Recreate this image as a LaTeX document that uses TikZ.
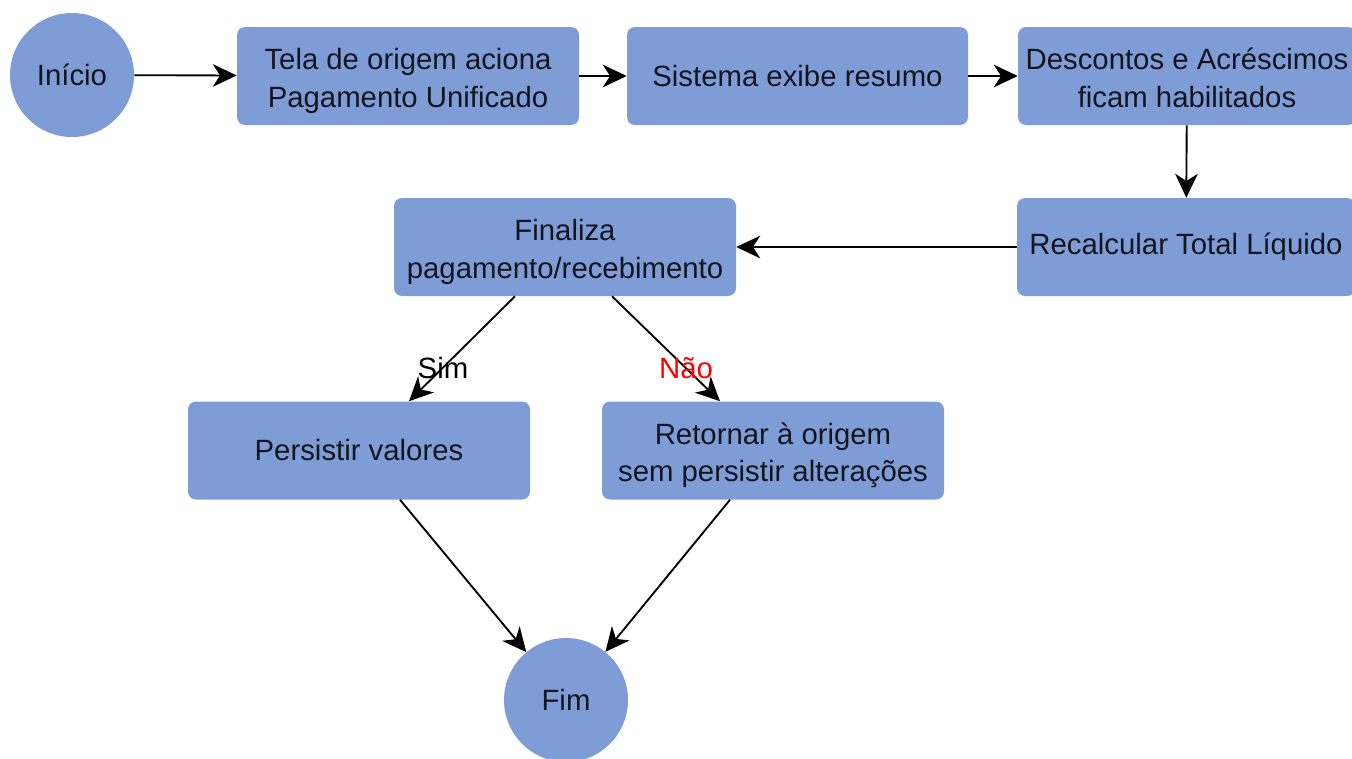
\documentclass[tikz,border=0pt]{standalone}
\usepackage{fontspec}
\setmainfont{Liberation Sans}
\usetikzlibrary{arrows.meta}
\definecolor{boxblue}{RGB}{126,157,214}
\definecolor{txt}{RGB}{20,20,30}
\newcommand\twolines[2]{\raisebox{-3.75pt}[\height][\depth]{\begin{tabular}{@{}c@{}}#1\\#2\end{tabular}}}
\tikzset{
  stepbox/.style={draw=none, fill=boxblue, rounded corners=8*0.75pt,
    minimum width=342*0.75pt, minimum height=98*0.75pt, inner sep=0pt,
    align=center, text=txt, font=\fontsize{22}{28}\selectfont},
  endcirc/.style={circle, draw=none, fill=boxblue, minimum size=124*0.75pt,
    inner sep=0pt, text=txt, font=\fontsize{22}{28}\selectfont},
  conn/.style={draw=black, line width=1.4pt, -{Stealth[length=18pt,width=17pt,inset=5.5pt]}},
  lbl/.style={font=\fontsize{22}{28}\selectfont, inner sep=1pt}
}
\begin{document}
\begin{tikzpicture}[x=0.75pt,y=-0.75pt]
\useasboundingbox (0,0) rectangle (1352,758);
\begin{scope}
\clip (0,0) rectangle (1352,758);
\node[endcirc] (ini) at (72,75) {Início};
\node[stepbox] (tela) at (408,76) {\twolines{Tela de origem aciona}{Pagamento Unificado}};
\node[stepbox, minimum width=341*0.75pt] (sist) at (797.5,76) {Sistema exibe resumo};
\node[stepbox, minimum width=338*0.75pt] (desc) at (1187,76) {\twolines{Descontos e Acréscimos}{ficam habilitados}};
\node[stepbox, minimum width=338*0.75pt] (recalc) at (1186,247) {Recalcular Total Líquido};
\node[stepbox] (fin) at (565,247) {\twolines{Finaliza}{pagamento/recebimento}};
\node[stepbox] (pers) at (359,450.5) {Persistir valores};
\node[stepbox] (ret) at (773,450.5) {\twolines{Retornar à origem}{sem persistir alterações}};
\node[endcirc] (fim) at (566,700) {Fim};

\draw[conn] (ini) -- (tela);
\draw[conn] (tela) -- (sist);
\draw[conn] (sist) -- (desc);
\draw[conn] (desc) -- (recalc);
\draw[conn] (recalc) -- (fin);
\draw[conn] ([xshift=-50*0.75pt]fin.south) -- ([xshift=50*0.75pt]pers.north);
\draw[conn] ([xshift=47*0.75pt]fin.south) -- ([xshift=-53*0.75pt]ret.north);
\draw[conn] ([xshift=41*0.75pt]pers.south) -- (fim);
\draw[conn] ([xshift=-43*0.75pt]ret.south) -- (fim);
\node[lbl, text=black] (sim) at (443,368) {Sim};
\node[lbl, text=red] (nao) at (686,368) {Não};
\end{scope}
\end{tikzpicture}
\end{document}
